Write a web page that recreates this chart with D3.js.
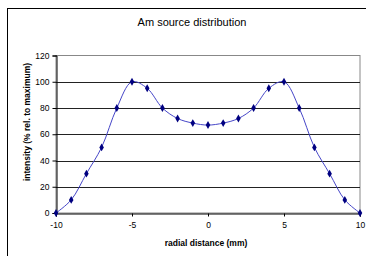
<!DOCTYPE html>
<html><head><meta charset="utf-8">
<script src="https://cdn.jsdelivr.net/npm/d3@7"></script>
<style>body{margin:0;background:#fff}svg{display:block;font-family:"Liberation Sans",Arial,sans-serif}</style>
</head><body><svg id="c" width="366" height="256"></svg>
<script>
const xValues = [-10,-9,-8,-7,-6,-5,-4,-3,-2,-1,0,1,2,3,4,5,6,7,8,9,10];
const intensity = [0,10,30,50,80,100,95,80,72,68.5,67,68.5,72,80,95,100,80,50,30,10,0];
const xTicks = [-10,-5,0,5,10];
const yTicks = [0,20,40,60,80,100,120];
const title = "Am source distribution";
const xLabel = "radial distance (mm)";
const yLabel = "intensity (% rel. to maximum)";

const svg = d3.select("#c");
// outer chart border
svg.append("rect").attr("x",7.5).attr("y",8.5).attr("width",400).attr("height",300)
  .attr("fill","none").attr("stroke","#000").attr("stroke-width",1);

const L=56, R=360, T=55.5, B=213;
const x = d3.scaleLinear().domain([-10,10]).range([L,R]);
const y = d3.scaleLinear().domain([0,120]).range([B,T]);

// plot border (gray)
svg.append("rect").attr("x",L).attr("y",y(120)).attr("width",R-L).attr("height",B-y(120))
  .attr("fill","none").attr("stroke","#888").attr("stroke-width",1);

// gridlines
svg.append("g").selectAll("line").data(yTicks.filter(d=>d>0&&d<120)).join("line")
  .attr("x1",L).attr("x2",R).attr("y1",d=>Math.round(y(d))+0.5).attr("y2",d=>Math.round(y(d))+0.5)
  .attr("stroke","#222").attr("stroke-width",1);

// axes
const yAxis = d3.axisLeft(y).tickValues(yTicks).tickSize(4).tickPadding(3);
const gy = svg.append("g").attr("transform",`translate(${L+0.5},0)`).call(yAxis);
gy.select(".domain").attr("stroke","#000");
gy.selectAll("text").attr("font-size","8.5px").attr("fill","#000");

const xAxis = d3.axisBottom(x).tickValues(xTicks).tickSize(3).tickPadding(5).tickFormat(d3.format("d"));
const gx = svg.append("g").attr("transform",`translate(0,${B+0.5})`).call(xAxis);
gx.select(".domain").attr("stroke","#000");
gx.selectAll("text").attr("font-size","8.5px").attr("fill","#000");
gx.selectAll(".tick text").text(d=> d<0 ? "-"+Math.abs(d) : d);

// line
const pts = xValues.map((v,i)=>[v,intensity[i]]);
svg.append("path").datum(pts)
  .attr("d", d3.line().x(d=>x(d[0])).y(d=>y(d[1])).curve(d3.curveCatmullRom.alpha(0.5)))
  .attr("fill","none").attr("stroke","#4646c8").attr("stroke-width",1);

// markers
svg.append("g").selectAll("path").data(pts).join("path")
  .attr("transform",d=>`translate(${x(d[0])},${y(d[1])})`)
  .attr("d",d3.symbol(d3.symbolDiamond2? d3.symbolDiamond : d3.symbolDiamond, 18))
  .attr("fill","#000080");

// texts
svg.append("text").attr("x",192).attr("y",26).attr("text-anchor","middle")
  .attr("font-size","11px").text(title);
svg.append("text").attr("x",206).attr("y",246).attr("text-anchor","middle")
  .attr("font-size","8.5px").attr("font-weight","bold").text(xLabel);
svg.append("text").attr("transform","translate(30,122) rotate(-90)").attr("text-anchor","middle")
  .attr("font-size","8.5px").attr("font-weight","bold").text(yLabel);
</script></body></html>
